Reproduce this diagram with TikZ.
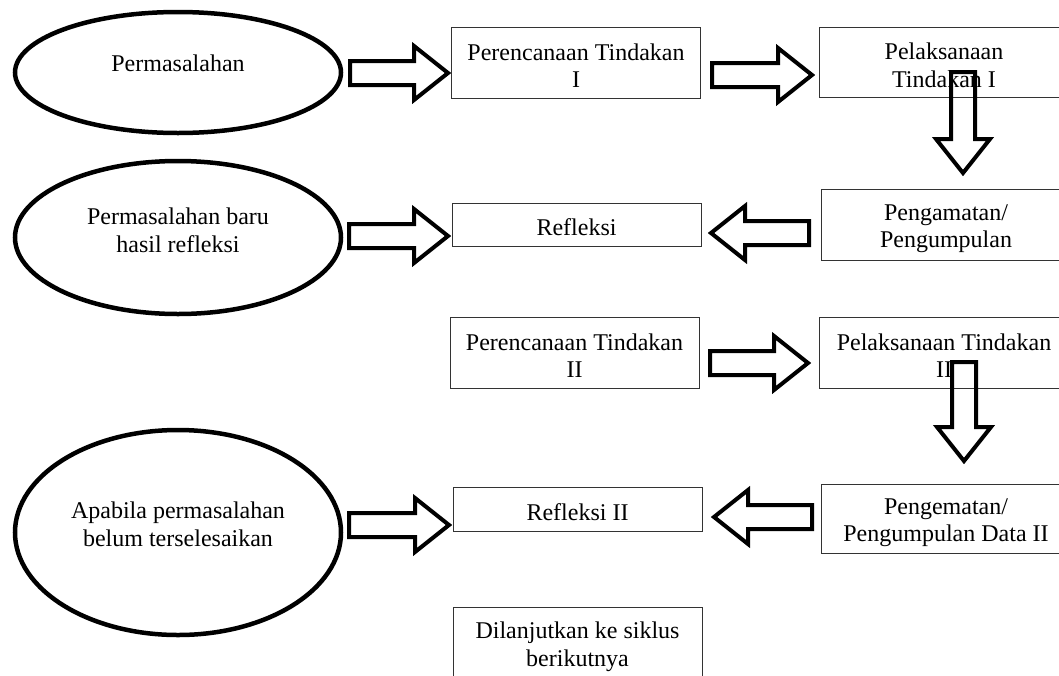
\documentclass[tikz,border=0pt]{standalone}
\usepackage{fontspec}
\setmainfont{Liberation Serif}
\usetikzlibrary{shapes.geometric}
\usetikzlibrary{calc}

\newcommand{\panah}[2]{%
	\path ($(#2)!34pt!(#1)$) coordinate (pk);
	\draw[panah] ($(#1)!12pt!90:(#2)$) -- ($(pk)!12pt!90:(#2)$) -- ($(pk)!27pt!90:(#2)$) -- (#2)
		-- ($(pk)!27pt!-90:(#2)$) -- ($(pk)!12pt!-90:(#2)$) -- ($(#1)!12pt!-90:(#2)$) -- cycle;}

\begin{document}
\begin{tikzpicture}[x=1pt,y=-1pt]
	\tikzstyle{every node}=[font=\fontsize{24}{27.6}\selectfont, align=center];
	\tikzstyle{kotak}=[draw=black!80, line width=1pt, minimum width=249pt, inner sep=0pt];
	\tikzstyle{teks}=[yshift=-3pt];
	\tikzstyle{elips}=[draw, ellipse, line width=4.5pt, minimum width=326pt];
	\tikzstyle{panah}=[line width=4pt, line join=miter];
	\useasboundingbox (0,0) rectangle (1059,675);
	% lingkaran permasalahan
	\path (178,72.5)  node[elips, minimum height=121pt, label={[yshift=9pt]center:Permasalahan}] (e1) {};
	\path (178,237.5) node[elips, minimum height=153pt, label={[yshift=7pt]center:Permasalahan baru\\hasil refleksi}] (e2) {};
	\path (178,532.5) node[elips, minimum height=205pt, label={[yshift=8pt]center:Apabila permasalahan\\belum terselesaikan}] (e3) {};
	% siklus I
	\path (576,62.5)  node[kotak, minimum height=71pt, label={[teks]center:Perencanaan Tindakan\\I}] (k1) {};
	\path (944,62)    node[kotak, minimum height=70pt, label={[teks]center:Pelaksanaan\\Tindakan I}] (k2) {};
	\path (946,224.5) node[kotak, minimum height=71pt, label={[teks, yshift=-1pt]center:Pengamatan/\\Pengumpulan}] (k3) {};
	\path (576.5,224.5) node[kotak, minimum height=43pt, label={[teks]center:Refleksi}] (k4) {};
	% siklus II
	\path (574.5,352.5) node[kotak, minimum height=71pt, label={[teks]center:Perencanaan Tindakan\\II}] (k5) {};
	\path (944,352.5) node[kotak, minimum height=71pt, label={[teks]center:Pelaksanaan Tindakan\\II}] (k6) {};
	\path (946,518.5) node[kotak, minimum height=69pt, label={[teks, yshift=-1pt]center:Pengematan/\\Pengumpulan Data II}] (k7) {};
	\path (577.5,509) node[kotak, minimum height=44pt, label={[teks]center:Refleksi II}] (k8) {};
	\path (577.5,642.5) node[kotak, minimum height=71pt, label={[teks, yshift=-1pt]center:Dilanjutkan ke siklus\\berikutnya}] (k9) {};
	% ujung panah
	\coordinate (a1) at (350,73);  \coordinate (b1) at (448,73);
	\coordinate (a2) at (712,75);  \coordinate (b2) at (812,75);
	\coordinate (a3) at (963,72);  \coordinate (b3) at (963,173);
	\coordinate (a4) at (809,233); \coordinate (b4) at (711,233);
	\coordinate (a5) at (349,236); \coordinate (b5) at (448,236);
	\coordinate (a6) at (710,363); \coordinate (b6) at (808,363);
	\coordinate (a7) at (964,362); \coordinate (b7) at (964,461);
	\coordinate (a8) at (812,517); \coordinate (b8) at (714,517);
	\coordinate (a9) at (349,525); \coordinate (b9) at (449,525);
	\foreach \i in {1,...,9} {\panah{a\i}{b\i}}
\end{tikzpicture}
\end{document}
